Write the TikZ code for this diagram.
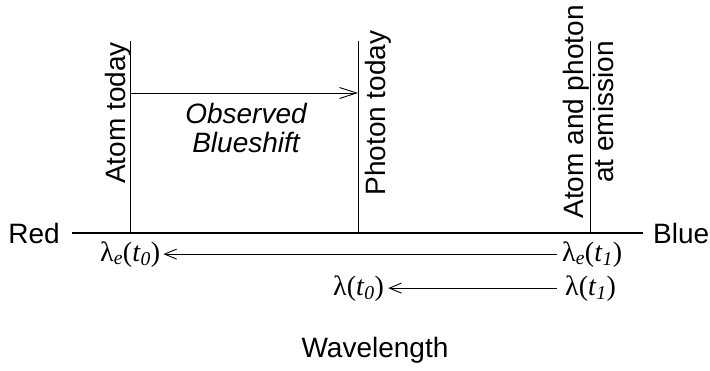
\documentclass[tikz,border=0pt]{standalone}
\usepackage{fontspec}
\setmainfont{Liberation Sans}
\newfontfamily\lamfont{Liberation Serif}
\usepackage{tikz}
\usetikzlibrary{
  arrows.meta,
  positioning
}
\newcommand{\wlen}[2]{λ\textsubscript{\itshape #1}(\textit{t}\textsubscript{\itshape #2})}
\newcommand{\wlnoe}[1]{λ(\textit{t}\textsubscript{\itshape #1})}

\begin{document}
\begin{tikzpicture}[
  x=1pt, y=-1pt,
  lbl/.style={inner sep=0pt, font=\fontsize{28}{29}\selectfont},
  vlbl/.style={lbl, rotate=90, anchor=base},
  lam/.style={inner sep=0pt, font=\lamfont\fontsize{28}{30}\selectfont},
  axisline/.style={line width=2.2pt},
  marker/.style={line width=1pt},
  shiftarr/.style={-{Straight Barb[length=17pt,width=11pt]}, line width=0.9pt},
  backarr/.style={-{Straight Barb[length=12pt,width=10pt]}, line width=0.9pt}
]
  \useasboundingbox (0,0) rectangle (710,370);

  % wavelength axis
  \node[lbl, anchor=base east] (red)  at (60,243)  {Red};
  \node[lbl, anchor=base west] (blue) at (653,243) {Blue};
  \draw[axisline, shorten <=12pt, shorten >=10pt] (red.east) -- (blue.west);

  % markers on the axis
  \coordinate (atom)  at (130,233);
  \coordinate (phot)  at (358,233);
  \coordinate (emit)  at (590,233);
  \draw[marker] (atom) -- ++(0,-192) coordinate (atomtop);
  \draw[marker] (phot) -- ++(0,-192) coordinate (phottop);
  \draw[marker] (emit) -- ++(0,-192) coordinate (emittop);

  \node[vlbl] (atomlbl)  at (125,113) {Atom today};
  \node[vlbl] (photlbl)  at (385,113) {Photon today};
  \node[vlbl] (emitlbl)  at (583,112) {Atom and photon};
  \node[vlbl] (emitlbl2) at (613,112) {at emission};

  % observed shift
  \coordinate (bs0) at (130,93);
  \coordinate (bs1) at (358,93);
  \draw[shiftarr] (bs0) -- (bs1);
  \node[lbl, anchor=north, align=center, font=\fontsize{28}{29}\selectfont\itshape]
    (shift) at (246,103) {Observed\\Blueshift};

  % wavelengths
  \node[lam, anchor=base west] (e0) at (100,261) {\wlen{e}{0}};
  \node[lam, anchor=base west] (e1) at (562,261) {\wlen{e}{1}};
  \node[lam, anchor=base west] (l0) at (333,295) {\wlnoe{0}};
  \node[lam, anchor=base west] (l1) at (565,295) {\wlnoe{1}};
  \draw[backarr, shorten <=5pt, shorten >=3pt] (e1) -- (e0);
  \draw[backarr, shorten <=8pt, shorten >=4pt] (l1) -- (l0);

  \node[lbl, anchor=base] (wave) at (375,357) {Wavelength};
\end{tikzpicture}
\end{document}
